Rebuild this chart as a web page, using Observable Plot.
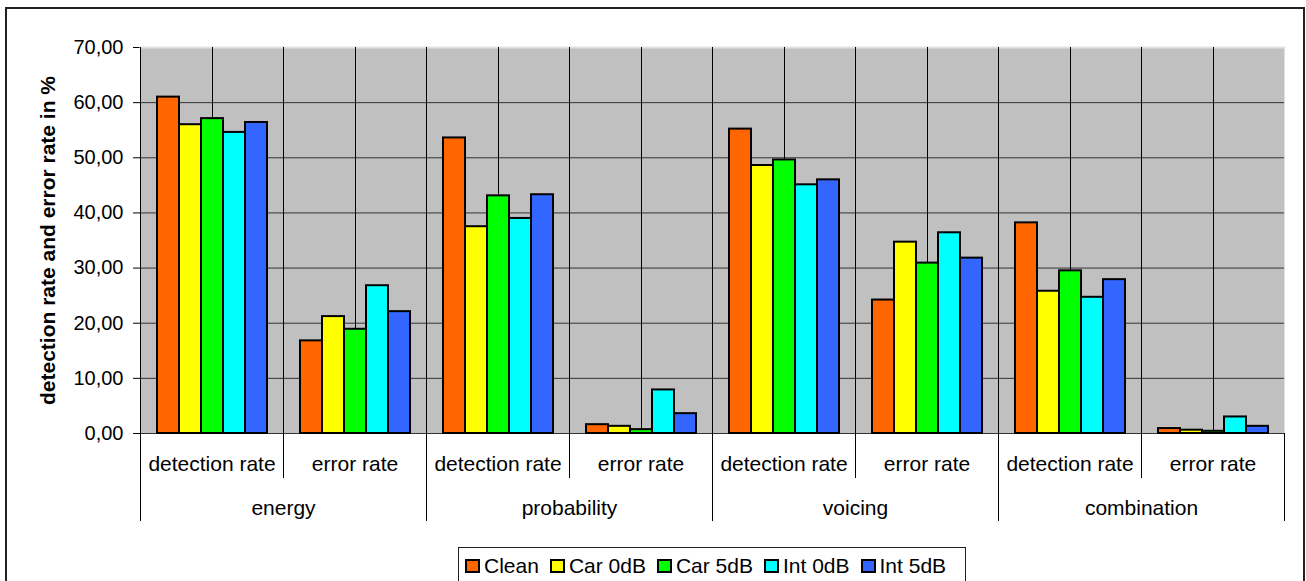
<!DOCTYPE html>
<html>
<head>
<meta charset="utf-8">
<script src="https://cdn.jsdelivr.net/npm/d3@7"></script>
<script src="https://cdn.jsdelivr.net/npm/@observablehq/plot@0.6"></script>
<style>
  html, body { margin: 0; padding: 0; background: #fff; overflow: hidden; width: 1306px; height: 581px; }
  #border { position: absolute; left: 5px; top: 7px; width: 1300px; height: 620px; border: 2px solid #222; box-sizing: border-box; }
  #chart { position: absolute; left: 0; top: 0; }
  #chart g[aria-label="y-axis tick label"] text { font-size: 20px; }
  #chart g[aria-label="y-axis label"] text { font-size: 21px; font-weight: bold; }
  #legend { position: absolute; left: 458px; top: 547px; width: 508px; height: 60px; border: 1px solid #222; box-sizing: border-box; background: #fff; padding-left: 7px; }
  #legend .lg-swatches { margin: 0 !important; height: 36px; min-height: 36px !important; display: flex; align-items: center; flex-wrap: nowrap; font-family: 'Liberation Sans', Arial, sans-serif !important; font-size: 21px !important; color: #000; }
  #legend .lg-swatch { margin-right: 12px !important; display: inline-flex; align-items: center; }
  #legend .lg-swatch > svg { margin-right: 5px !important; overflow: visible; }
  #legend .lg-swatch > svg rect { stroke: #000; stroke-width: 2px; }
</style>
</head>
<body>
<div id="border"></div>
<div id="chart"></div>
<div id="legend"></div>
<script>
// ---- data ----
const groups = ["energy", "probability", "voicing", "combination"];
const metrics = ["detection rate", "error rate"];
const series = ["Clean", "Car 0dB", "Car 5dB", "Int 0dB", "Int 5dB"];
const colors = ["#FF6600", "#FFFF00", "#00FF00", "#00FFFF", "#3366FF"];
// values in order: energy DR, energy ER, probability DR, probability ER, voicing DR, voicing ER, combination DR, combination ER
const clean  = [61.0, 16.8, 53.6, 1.6, 55.2, 24.2, 38.2, 0.9];
const car0dB = [56.0, 21.2, 37.5, 1.3, 48.6, 34.7, 25.8, 0.6];
const car5dB = [57.1, 18.9, 43.1, 0.7, 49.6, 30.9, 29.5, 0.4];
const int0dB = [54.6, 26.8, 39.0, 7.9, 45.1, 36.4, 24.7, 3.0];
const int5dB = [56.4, 22.1, 43.3, 3.6, 46.0, 31.8, 27.9, 1.3];
const yTicks = [0, 10, 20, 30, 40, 50, 60, 70];
const yTitle = "detection rate and error rate in %";

// ---- table ----
const cats = groups.flatMap(g => metrics.map(m => g + "|" + m));
const seriesValues = [clean, car0dB, car5dB, int0dB, int5dB];
const rows = series.flatMap((s, i) => cats.map((c, j) => ({cat: c, series: s, value: seriesValues[i][j]})));

const chart = Plot.plot({
  width: 1306,
  height: 547,
  marginLeft: 140,
  marginRight: 22,
  marginTop: 47,
  marginBottom: 114,
  style: {background: "transparent", fontFamily: "'Liberation Sans', Arial, sans-serif", fontSize: "21px", color: "#000", overflow: "visible"},
  fx: {domain: cats, padding: 0, round: false, axis: "bottom", tickFormat: d => d.split("|")[1], tickSize: 0, tickPadding: 23, label: null},
  x: {domain: series, paddingInner: 0, paddingOuter: 0.75, axis: null},
  y: {domain: [0, 70], ticks: yTicks, tickFormat: d => d.toFixed(2).replace(".", ","), tickSize: 7, tickPadding: 10,
      label: yTitle, labelAnchor: "center", labelOffset: 100, labelArrow: "none"},
  color: {domain: series, range: colors},
  marks: [
    Plot.frame({fill: "#C0C0C0"}),
    Plot.ruleY(yTicks, {stroke: "#333"}),
    Plot.frame({anchor: "top", stroke: "#e2e2e2", strokeWidth: 2}),
    Plot.frame({anchor: "left", stroke: "#000", insetBottom: -44}),
    Plot.ruleX(["Car 5dB"], {stroke: "#000"}),
    ...groups.map(g => Plot.frame({fx: g + "|detection rate", anchor: "left", stroke: "#000", insetBottom: -87})),
    Plot.frame({fx: cats[cats.length - 1], anchor: "right", stroke: "#000", insetTop: 386, insetBottom: -87}),
    Plot.barY(rows, {fx: "cat", x: "series", y: "value", fill: "series", stroke: "#000", strokeWidth: 2}),
    Plot.text(groups, {fx: g => g + "|detection rate", text: g => g, frameAnchor: "bottom-right", textAnchor: "middle", dy: 81, fill: "#000"})
  ]
});
document.getElementById("chart").appendChild(chart);

const legend = Plot.legend({
  color: {type: "ordinal", domain: series, range: colors},
  legend: "swatches",
  swatchWidth: 13,
  swatchHeight: 12,
  className: "lg"
});
document.getElementById("legend").appendChild(legend);
</script>
</body>
</html>
